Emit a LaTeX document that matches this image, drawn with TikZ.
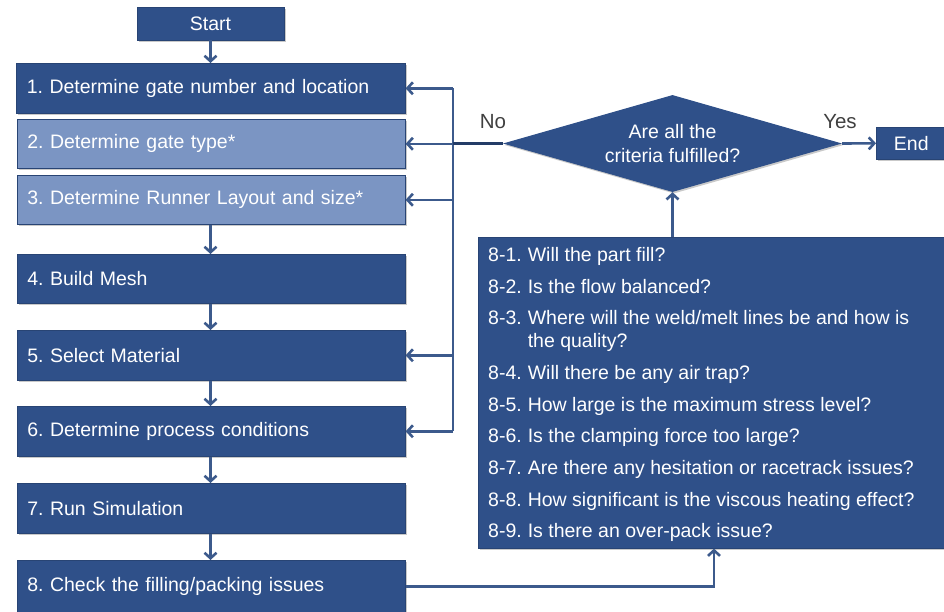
\documentclass[tikz,border=0pt]{standalone}
\usepackage{fontspec}
\setmainfont{Liberation Sans}
\usetikzlibrary{shapes.geometric,arrows.meta,shadows}
\definecolor{navy}{HTML}{2F5089}
\definecolor{pale}{HTML}{7B95C3}
\definecolor{wire}{HTML}{3C5A8C}
\definecolor{lbltxt}{HTML}{404040}
\frenchspacing
\begin{document}
\begin{tikzpicture}[x=1pt,y=-1pt,
  shade/.style={drop shadow={shadow xshift=1.5pt,shadow yshift=-1.5pt,opacity=0.3,fill=black!70}},
  txt/.style={font=\fontsize{19.5}{24}\selectfont},
  capbox/.style={rectangle, fill=navy, draw=navy!85!black, line width=0.6pt, text=white, txt, inner sep=0pt, shade},
  stepbox/.style={capbox, anchor=north west, minimum width=388pt, minimum height=50pt,
                  text width=368pt, align=left, inner xsep=10pt},
  lightbox/.style={stepbox, fill=pale},
  arr/.style={draw=wire, line width=2.6pt, -{Straight Barb[length=5.5pt,width=12pt]}},
  wireline/.style={draw=wire, line width=2.6pt},
  lbl/.style={text=lbltxt, font=\fontsize{20.5}{24}\selectfont, inner sep=0pt}
]
\useasboundingbox (0,0) rectangle (944,611);

% process steps
\node[capbox, minimum width=147pt, minimum height=33pt] (start) at (210.5,23.5) {Start};
\node[stepbox, minimum width=389pt] (b1) at (16,63) {1. Determine gate number and location};
\node[lightbox, minimum height=49pt] (b2) at (17,119) {2. Determine gate type*};
\node[lightbox, minimum height=49pt] (b3) at (17,175) {3. Determine Runner Layout and size*};
\node[stepbox, minimum height=49pt] (b4) at (17,254) {4. Build Mesh};
\node[stepbox] (b5) at (17,330) {5. Select Material};
\node[stepbox] (b6) at (17,406) {6. Determine process conditions};
\node[stepbox] (b7) at (17,483) {7. Run Simulation};
\node[stepbox, minimum height=52pt] (b8) at (17,560) {8. Check the filling/packing issues};

% decision and end
\node[diamond, aspect=3.5, fill=navy, text=white, minimum width=339pt, minimum height=97pt, inner sep=0pt,
      align=center, txt, shade] (dec) at (672.5,143.5) {Are all the\\criteria fulfilled?};
\node[capbox, anchor=north west, minimum width=70pt, minimum height=32pt] (end) at (876,127) {End};
\node[lbl] (no) at (493,122) {No};
\node[lbl] (yes) at (840,122) {Yes};

% checklist: box, then its list of questions
\node[capbox, anchor=north west, minimum width=468pt, minimum height=311pt] (qs) at (478,237) {};
\node[anchor=north west, inner sep=0pt, text=white, align=left,
      font=\fontsize{19.5}{23}\selectfont] (qlist) at (488,245)
{\begin{tabular}{@{}l@{\hspace{6pt}}l@{}}
8-1. & Will the part fill?\\[8.7pt]
8-2. & Is the flow balanced?\\[8.7pt]
8-3. & Where will the weld/melt lines be and how is\\
     & the quality?\\[8.7pt]
8-4. & Will there be any air trap?\\[8.7pt]
8-5. & How large is the maximum stress level?\\[8.7pt]
8-6. & Is the clamping force too large?\\[8.7pt]
8-7. & Are there any hesitation or racetrack issues?\\[8.7pt]
8-8. & How significant is the viscous heating effect?\\[8.7pt]
8-9. & Is there an over-pack issue?
\end{tabular}};

% main flow
\draw[arr] (start.south) -- (start.south |- b1.north);
\foreach \a/\b in {b3/b4, b4/b5, b5/b6, b6/b7, b7/b8}
  \draw[arr] (\a.south -| start.south) -- (\b.north -| start.south);

% feedback from the decision
\coordinate (tr) at (453,0);
\draw[wireline] (b1.east -| tr) -- (b6.east -| tr);
\foreach \b in {b1, b2, b3, b5, b6}
  \draw[arr] (\b.east -| tr) -- (\b.east);
\draw[draw=navy!75!black, line width=3.2pt] (dec.west) -- (dec.west -| tr);
\draw[arr] (dec.east) -- (end.west);
\draw[arr] (qs.north -| dec.south) -- (dec.south);

% step 8 into the checklist
\coordinate (kx) at (714,0);
\draw[arr] (b8.east) -| (qs.south -| kx);
\end{tikzpicture}
\end{document}
